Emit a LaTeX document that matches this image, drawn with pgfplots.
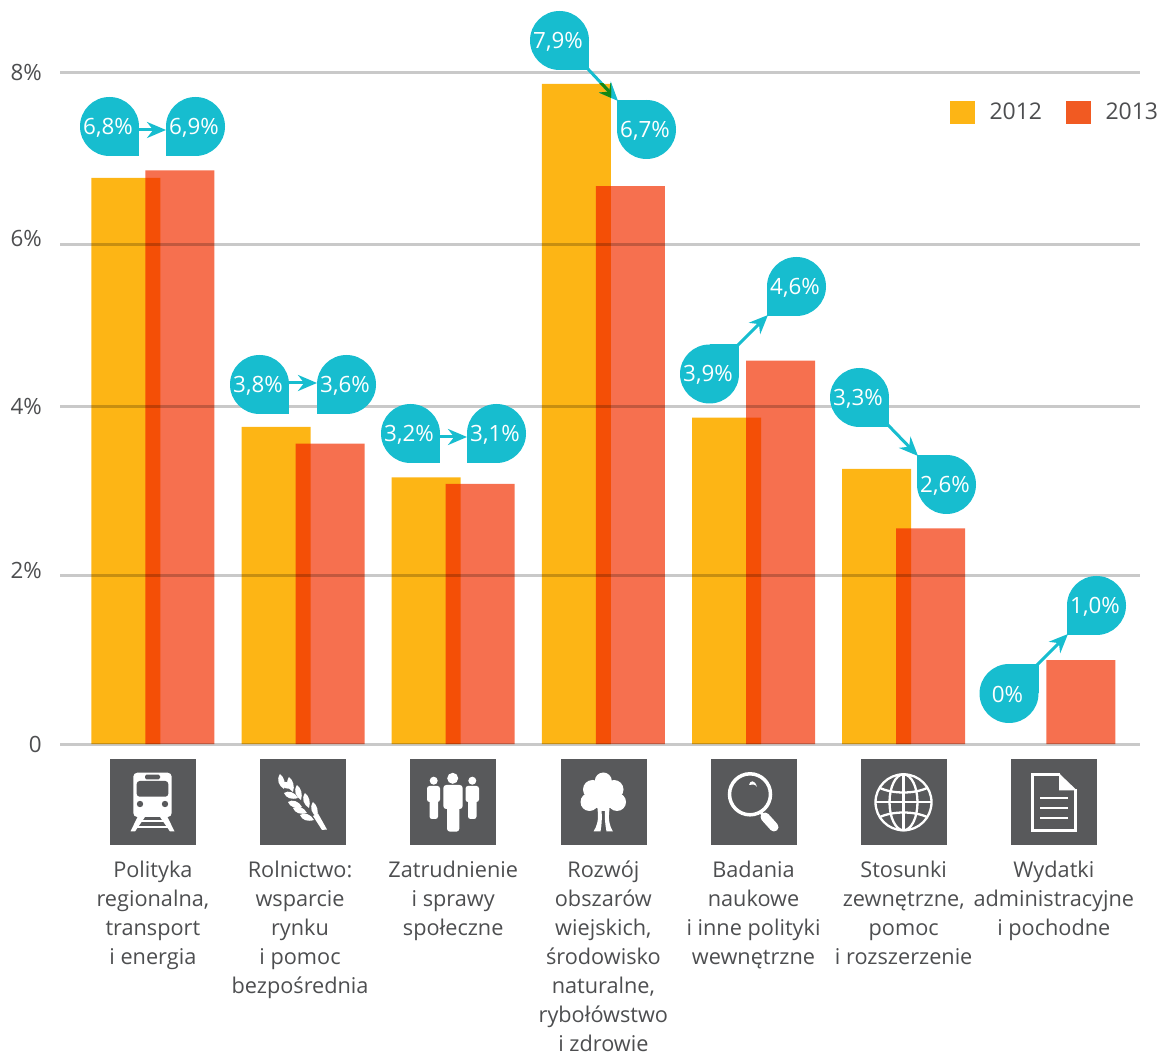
\documentclass[border=0pt]{standalone}
\usepackage{fontspec}
\setmainfont{Open Sans}
\usepackage{pgfplots}
\pgfplotsset{compat=1.18}
\usetikzlibrary{arrows.meta}
\definecolor{cA}{HTML}{FDB515}
\definecolor{cB}{HTML}{F6704F}
\definecolor{cBl}{HTML}{F15A22}
\definecolor{cy}{HTML}{17BDCF}
\definecolor{gn}{RGB}{23,135,17}
\definecolor{ic}{HTML}{58595B}
\definecolor{tx}{HTML}{4D4E50}
\definecolor{gr}{HTML}{C9C9C9}
\newcommand{\callout}[5]{%
  \fill[cy] (#1,#2) circle[radius=29.5];
  \fill[cy] (#1,#2) rectangle ({#1+#3*29.5},{#2+#4*29.5});
  \node[text=white,font=\fontsize{22.4}{26}\selectfont,inner sep=0pt] at ({#1-1.5},{#2+1}) {#5};}
\newcommand{\arr}[4]{\draw[cy,line width=3pt,-{Stealth[length=19pt,width=16pt]}] (#1,#2) -- (#3,#4);}
\begin{document}
\begin{tikzpicture}
\path[use as bounding box] (-60pt,744pt-1054pt) rectangle (1102pt,744pt);
\begin{axis}[
  at={(0,0)},anchor=south west,
  scale only axis,width=1080pt,height=671pt,
  xmin=-0.6185,xmax=6.5735,ymin=0,ymax=8,
  clip=false,axis on top,
  axis line style={draw=none},
  tick style={draw=none},
  major tick length=0pt,
  ymajorgrids,
  grid style={line width=3pt,gr,blend mode=multiply},
  ytick={0,2.01,4.02,5.96,8},
  yticklabels={0,\raisebox{10pt}{2\%},4\%,\raisebox{12pt}{6\%},8\%},
  yticklabel style={font=\fontsize{22.4}{26}\selectfont,text=tx,inner sep=0pt,anchor=east,xshift=-18pt},
  xtick={0,0.98,2,3,4,5,6},
  xticklabels={
    {Polityka\\regionalna,\\transport\\i energia},
    {Rolnictwo:\\wsparcie\\rynku\\i pomoc\\bezpośrednia},
    {Zatrudnienie\\i sprawy\\społeczne},
    {Rozwój\\obszarów\\wiejskich,\\środowisko\\naturalne,\\rybołówstwo\\i zdrowie},
    {Badania\\naukowe\\i inne polityki\\wewnętrzne},
    {Stosunki\\zewnętrzne,\\pomoc\\i rozszerzenie},
    {Wydatki\\administracyjne\\i pochodne}},
  xticklabel style={font=\fontsize{21.7}{29}\selectfont,text=tx,align=center,inner sep=0pt,anchor=north,yshift=-117pt},
  legend columns=2,
  legend cell align=left,
  legend style={at={(0.824,0.942)},anchor=west,draw=none,fill=none,inner sep=0pt,
    font=\fontsize{23}{26}\selectfont,text=tx,
    nodes={inner sep=0pt},
    /tikz/every odd column/.append style={column sep=15pt},
    /tikz/every even column/.append style={column sep=24pt}},
]
\addplot[ybar,bar width=69pt,bar shift=-27pt,fill=cA,draw=none,forget plot] coordinates {
 (0,6.75) (1,3.78) (2,3.18) (3,7.87) (4,3.89) (5,3.28)};
\addplot[ybar,bar width=69pt,bar shift=27pt,fill=cB,draw=none,blend mode=multiply,forget plot] coordinates {
 (0,6.84) (1,3.58) (2,3.10) (3,6.65) (4,4.57) (5,2.57) (6,1.0)};
\addlegendimage{legend image code/.code={\fill[cA] (0pt,-11pt) rectangle (24pt,11pt);}}
\addlegendentry{2012}
\addlegendimage{legend image code/.code={\fill[cBl] (0pt,-11pt) rectangle (24pt,11pt);}}
\addlegendentry{2013}
\end{axis}
\begin{scope}[shift={(-60pt,744pt)},x=1pt,y=-1pt]
 % arrows
 \arr{139}{130}{166}{130}
 \arr{289}{383}{317}{383}
 \arr{440}{437}{467}{437}
 \arr{587}{68}{618}{101}
 \begin{scope}
  \clip (542,84) rectangle (611,130);
  \draw[gn,line width=3pt,-{Stealth[length=19pt,width=16pt]}] (587,68) -- (618,101);
 \end{scope}
 \arr{738}{345}{768}{315}
 \arr{888}{425}{918}{456}
 \arr{1037}{665}{1068}{634}
 % callouts
 \callout{109.5}{126.5}{1}{1}{6,8\%}
 \callout{195.5}{126.5}{-1}{1}{6,9\%}
 \callout{259.5}{384.5}{1}{1}{3,8\%}
 \callout{346.5}{384.5}{-1}{1}{3,6\%}
 \callout{410.5}{433.5}{1}{1}{3,2\%}
 \callout{496.5}{433.5}{-1}{1}{3,1\%}
 \callout{559.5}{40.5}{1}{1}{7,9\%}
 \callout{646.5}{129.5}{-1}{-1}{6,7\%}
 \callout{709.5}{374}{1}{-1}{3,9\%}
 \callout{796.5}{286.5}{-1}{1}{4,6\%}
 \callout{859.5}{397.5}{1}{1}{3,3\%}
 \callout{946.5}{484.5}{-1}{-1}{2,6\%}
 \callout{1009}{693.5}{1}{-1}{0\%}
 \callout{1096.5}{605.5}{-1}{1}{1,0\%}
 % icon squares
 \foreach \xx in {109.5,260,410,560.5,710.5,861,1011}
   \fill[ic] (\xx,759.5) rectangle ++(86,86);
 % train
 \fill[white,rounded corners=4pt] (133.3,772.7) rectangle (171.7,817);
 \fill[ic,rounded corners=3pt] (136.7,781) rectangle (168.3,796.7);
 \fill[ic,rounded corners=1.5pt] (145,774.7) rectangle (160,779.5);
 \fill[ic] (140,804) circle[radius=3.2];
 \fill[ic] (165,804) circle[radius=3.2];
 \fill[white] (137.5,817) -- (145,817) -- (135,831.5) -- (130.5,831.5) -- cycle;
 \fill[white] (160,817) -- (167.5,817) -- (174.5,831.5) -- (170,831.5) -- cycle;
 \fill[white] (140,820.5) rectangle (165,822.5);
 \fill[white] (136,826) rectangle (169,828);
 % wheat
 \fill[white] (313,816) -- (318,813.5) -- (327,829.5) -- (322,830) -- cycle;
 \foreach \px/\py in {280/774,289/777,297/785,305/793,313/802}
   \fill[white,shift={(\px,\py)}] (0,0) .. controls (-4,6) and (-1,12) .. (4,15) .. controls (6,9) and (4,3) .. (0,0);
 \foreach \px/\py in {280/783,284/793,288/802,293/808,300/815}
   \fill[white,shift={(\px,\py)}] (0,0) .. controls (4,-3) and (11,-1) .. (14,5) .. controls (7,7) and (2,5) .. (0,0);
 % people
 \fill[white] (452.7,778.3) circle[radius=5.5];
 \fill[white,rounded corners=3pt] (443.3,785) rectangle (462.7,809);
 \fill[white,rounded corners=3pt] (447,800) rectangle (459.3,831.7);
 \fill[white] (433.7,780.7) circle[radius=4];
 \fill[white,rounded corners=2.5pt] (427,786) rectangle (440,802);
 \fill[white,rounded corners=2.5pt] (429.5,795) rectangle (438,819);
 \fill[white] (472.3,780.7) circle[radius=4];
 \fill[white,rounded corners=2.5pt] (465.5,786) rectangle (479,802);
 \fill[white,rounded corners=2.5pt] (468,795) rectangle (476.5,819);
 % tree
 \fill[white] (603.3,781) circle[radius=8.5];
 \fill[white] (592.5,789.5) circle[radius=9.5];
 \fill[white] (614,789.5) circle[radius=9.5];
 \fill[white] (589.5,802) circle[radius=9];
 \fill[white] (617,802) circle[radius=9];
 \fill[white] (603.3,797) circle[radius=13];
 \fill[white] (598,806) rectangle (609,811);
 \fill[white] (597.5,809) .. controls (599,820) and (597,826) .. (593.5,831.5) -- (600.5,831.5) .. controls (602,824) and (602,816) .. (601.5,809) -- cycle;
 \fill[white] (605,809) .. controls (604.5,816) and (605,824) .. (606.5,831.5) -- (613,831.5) .. controls (609.5,826) and (608,820) .. (609.5,809) -- cycle;
 % magnifier
 \draw[white,line width=3.5pt] (750,794.3) circle[radius=20.5];
 \draw[white,line width=3pt] (760,811.5) -- (765,817);
 \draw[white,line width=9pt,line cap=round] (765,817) -- (774,827);
 \fill[white] (749,785) .. controls (750,780) and (755,779.5) .. (757,787) .. controls (755,784) and (752,784) .. (749,785);
 % globe
 \begin{scope}[white,line width=2.3pt]
  \draw (903.5,802.3) circle[radius=28];
  \draw (903.5,774.3) -- (903.5,830.3);
  \draw (875.5,802.3) -- (931.5,802.3);
  \draw (903.5,802.3) ellipse[x radius=14,y radius=28];
  \draw (880,788) .. controls (893,794) and (914,794) .. (927,788);
  \draw (880,817) .. controls (893,811) and (914,811) .. (927,817);
 \end{scope}
 % document
 \draw[white,line width=2.8pt] (1075.5,789) -- (1075.5,830.5) -- (1032.5,830.5) -- (1032.5,774.7) -- (1060,774.7);
 \fill[white] (1059,773.3) -- (1077,790.5) -- (1059,790.5) -- cycle;
 \foreach \yy in {798,808,818}
   \draw[white,line width=2.8pt] (1040,\yy) -- (1068,\yy);
\end{scope}
\end{tikzpicture}
\end{document}
